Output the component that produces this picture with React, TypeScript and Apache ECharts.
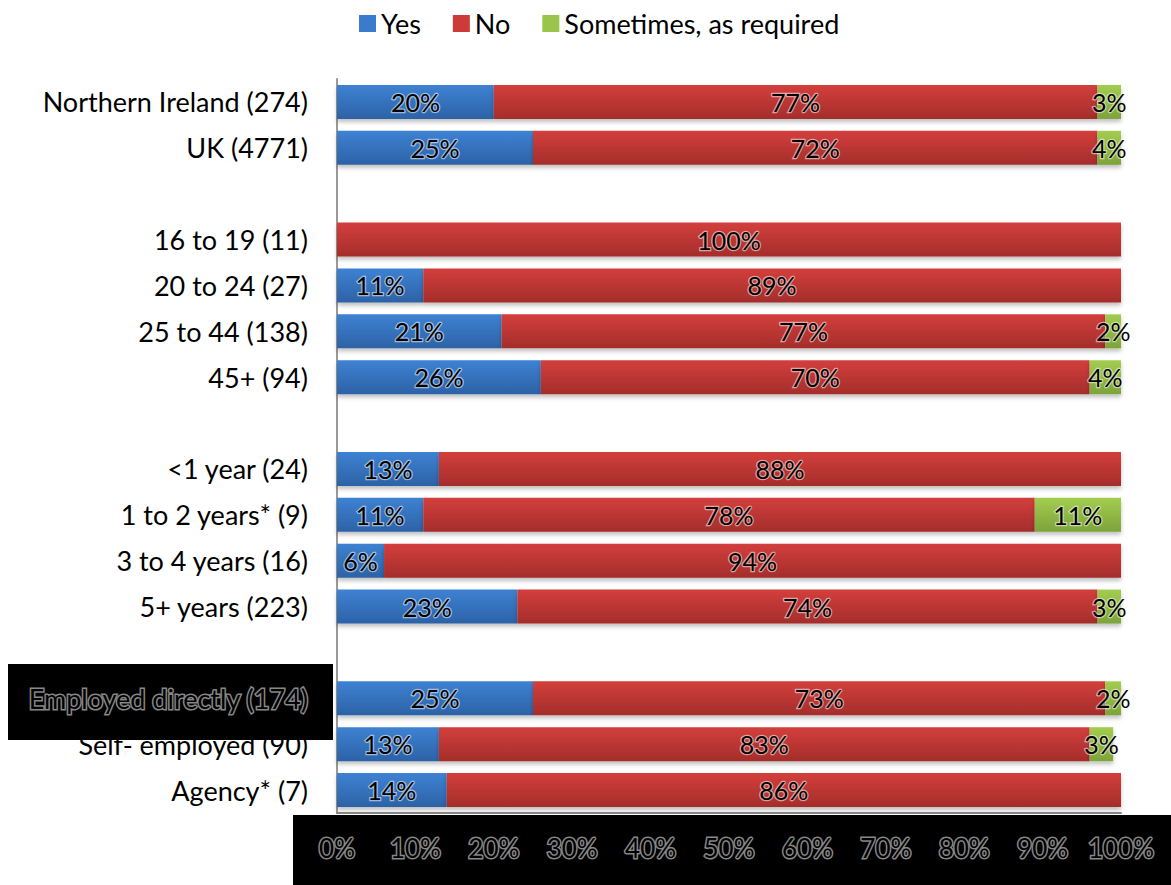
import React, { useEffect, useRef } from "react";
import * as echarts from "echarts";

const categories = [
  "Northern Ireland (274)",
  "UK (4771)",
  "",
  "16 to 19 (11)",
  "20 to 24 (27)",
  "25 to 44 (138)",
  "45+ (94)",
  " ",
  "<1 year (24)",
  "1 to 2 years* (9)",
  "3 to 4 years (16)",
  "5+ years (223)",
  "  ",
  "Employed directly (174)",
  "Self- employed (90)",
  "Agency* (7)",
];

const yesValues = [20, 25, "-", 0, 11, 21, 26, "-", 13, 11, 6, 23, "-", 25, 13, 14];
const noValues = [77, 72, "-", 100, 89, 77, 70, "-", 88, 78, 94, 74, "-", 73, 83, 86];
const sometimesValues = [3, 4, "-", 0, 0, 2, 4, "-", 0, 11, 0, 3, "-", 2, 3, 0];

const seriesNames = ["Yes", "No", "Sometimes, as required"];
const xTicks = [0, 100, 10];

const FONT = "Lato, 'Open Sans', sans-serif";

export default function App() {
  const ref = useRef<HTMLDivElement>(null);
  useEffect(() => {
    document.body.style.margin = "0";
    const chart = echarts.init(ref.current!, null, { renderer: "svg" });
    const grad = (a: string, b: string) =>
      new echarts.graphic.LinearGradient(0, 0, 0, 1, [
        { offset: 0, color: a },
        { offset: 1, color: b },
      ]);
    const labelCfg = {
      show: true,
      position: "inside",
      fontSize: 25,
      fontFamily: FONT,
      color: "#000",
      textBorderColor: "rgba(255,255,255,0.55)",
      textBorderWidth: 2.5,
      formatter: (p: any) => (typeof p.value === "number" && p.value > 0 ? p.value + "%" : ""),
    };
    const mk = (name: string, data: any[], c1: string, c2: string) => ({
      name,
      type: "bar",
      stack: "total",
      barWidth: 34,
      data,
      label: labelCfg,
      itemStyle: {
        color: grad(c1, c2),
        shadowColor: "rgba(0,0,0,0.25)",
        shadowBlur: 4,
        shadowOffsetY: 3,
      },
      emphasis: { disabled: true },
    });
    chart.setOption({
      animation: false,
      graphic: [
        {
          type: "rect",
          z: -10,
          shape: { x: 293, y: 815, width: 878, height: 70 },
          style: { fill: "#000" },
        },
        {
          type: "rect",
          z: -10,
          shape: { x: 8, y: 664, width: 325, height: 76 },
          style: { fill: "#000" },
        },
      ],
      legend: {
        data: seriesNames.map((n, i) => ({
          name: n,
          itemStyle: { color: ["#3A7CCB", "#CC3B38", "#9BC54A"][i] },
        })),
        left: 354,
        top: 5,
        itemWidth: 17,
        itemHeight: 17,
        itemGap: 32,
        icon: "rect",
        textStyle: { fontSize: 27, fontFamily: FONT, color: "#000" },
      },
      grid: { left: 337, right: 50, top: 79, bottom: 72, containLabel: false },
      xAxis: {
        type: "value",
        min: xTicks[0],
        max: xTicks[1],
        interval: xTicks[2],
        splitLine: { show: false },
        axisTick: { show: false },
        axisLine: { show: true, lineStyle: { color: "#888", width: 2 } },
        axisLabel: {
          formatter: "{value}%",
          fontSize: 26,
          fontFamily: FONT,
          color: "#000",
          textBorderColor: "#888",
          textBorderWidth: 3,
          margin: 22,
        },
      },
      yAxis: {
        type: "category",
        inverse: true,
        data: categories,
        axisTick: { show: false },
        axisLine: { show: true, lineStyle: { color: "#999", width: 2 } },
        axisLabel: {
          fontSize: 27,
          fontFamily: FONT,
          color: "#000",
          margin: 29,
          formatter: (v: string) => (v.startsWith("Employed") ? `{dark|${v}}` : v),
          rich: {
            dark: {
              fontSize: 27,
              fontFamily: FONT,
              color: "#000",
              textBorderColor: "#888",
              textBorderWidth: 3,
            },
          },
        },
      },
      series: [
        mk(seriesNames[0], yesValues, "#3E82D3", "#2C62A6"),
        mk(seriesNames[1], noValues, "#D33F3C", "#A42D2B"),
        mk(seriesNames[2], sometimesValues, "#A2CD50", "#7DA33A"),
      ],
    });
    return () => chart.dispose();
  }, []);
  return <div ref={ref} style={{ width: 1171, height: 885 }} />;
}
